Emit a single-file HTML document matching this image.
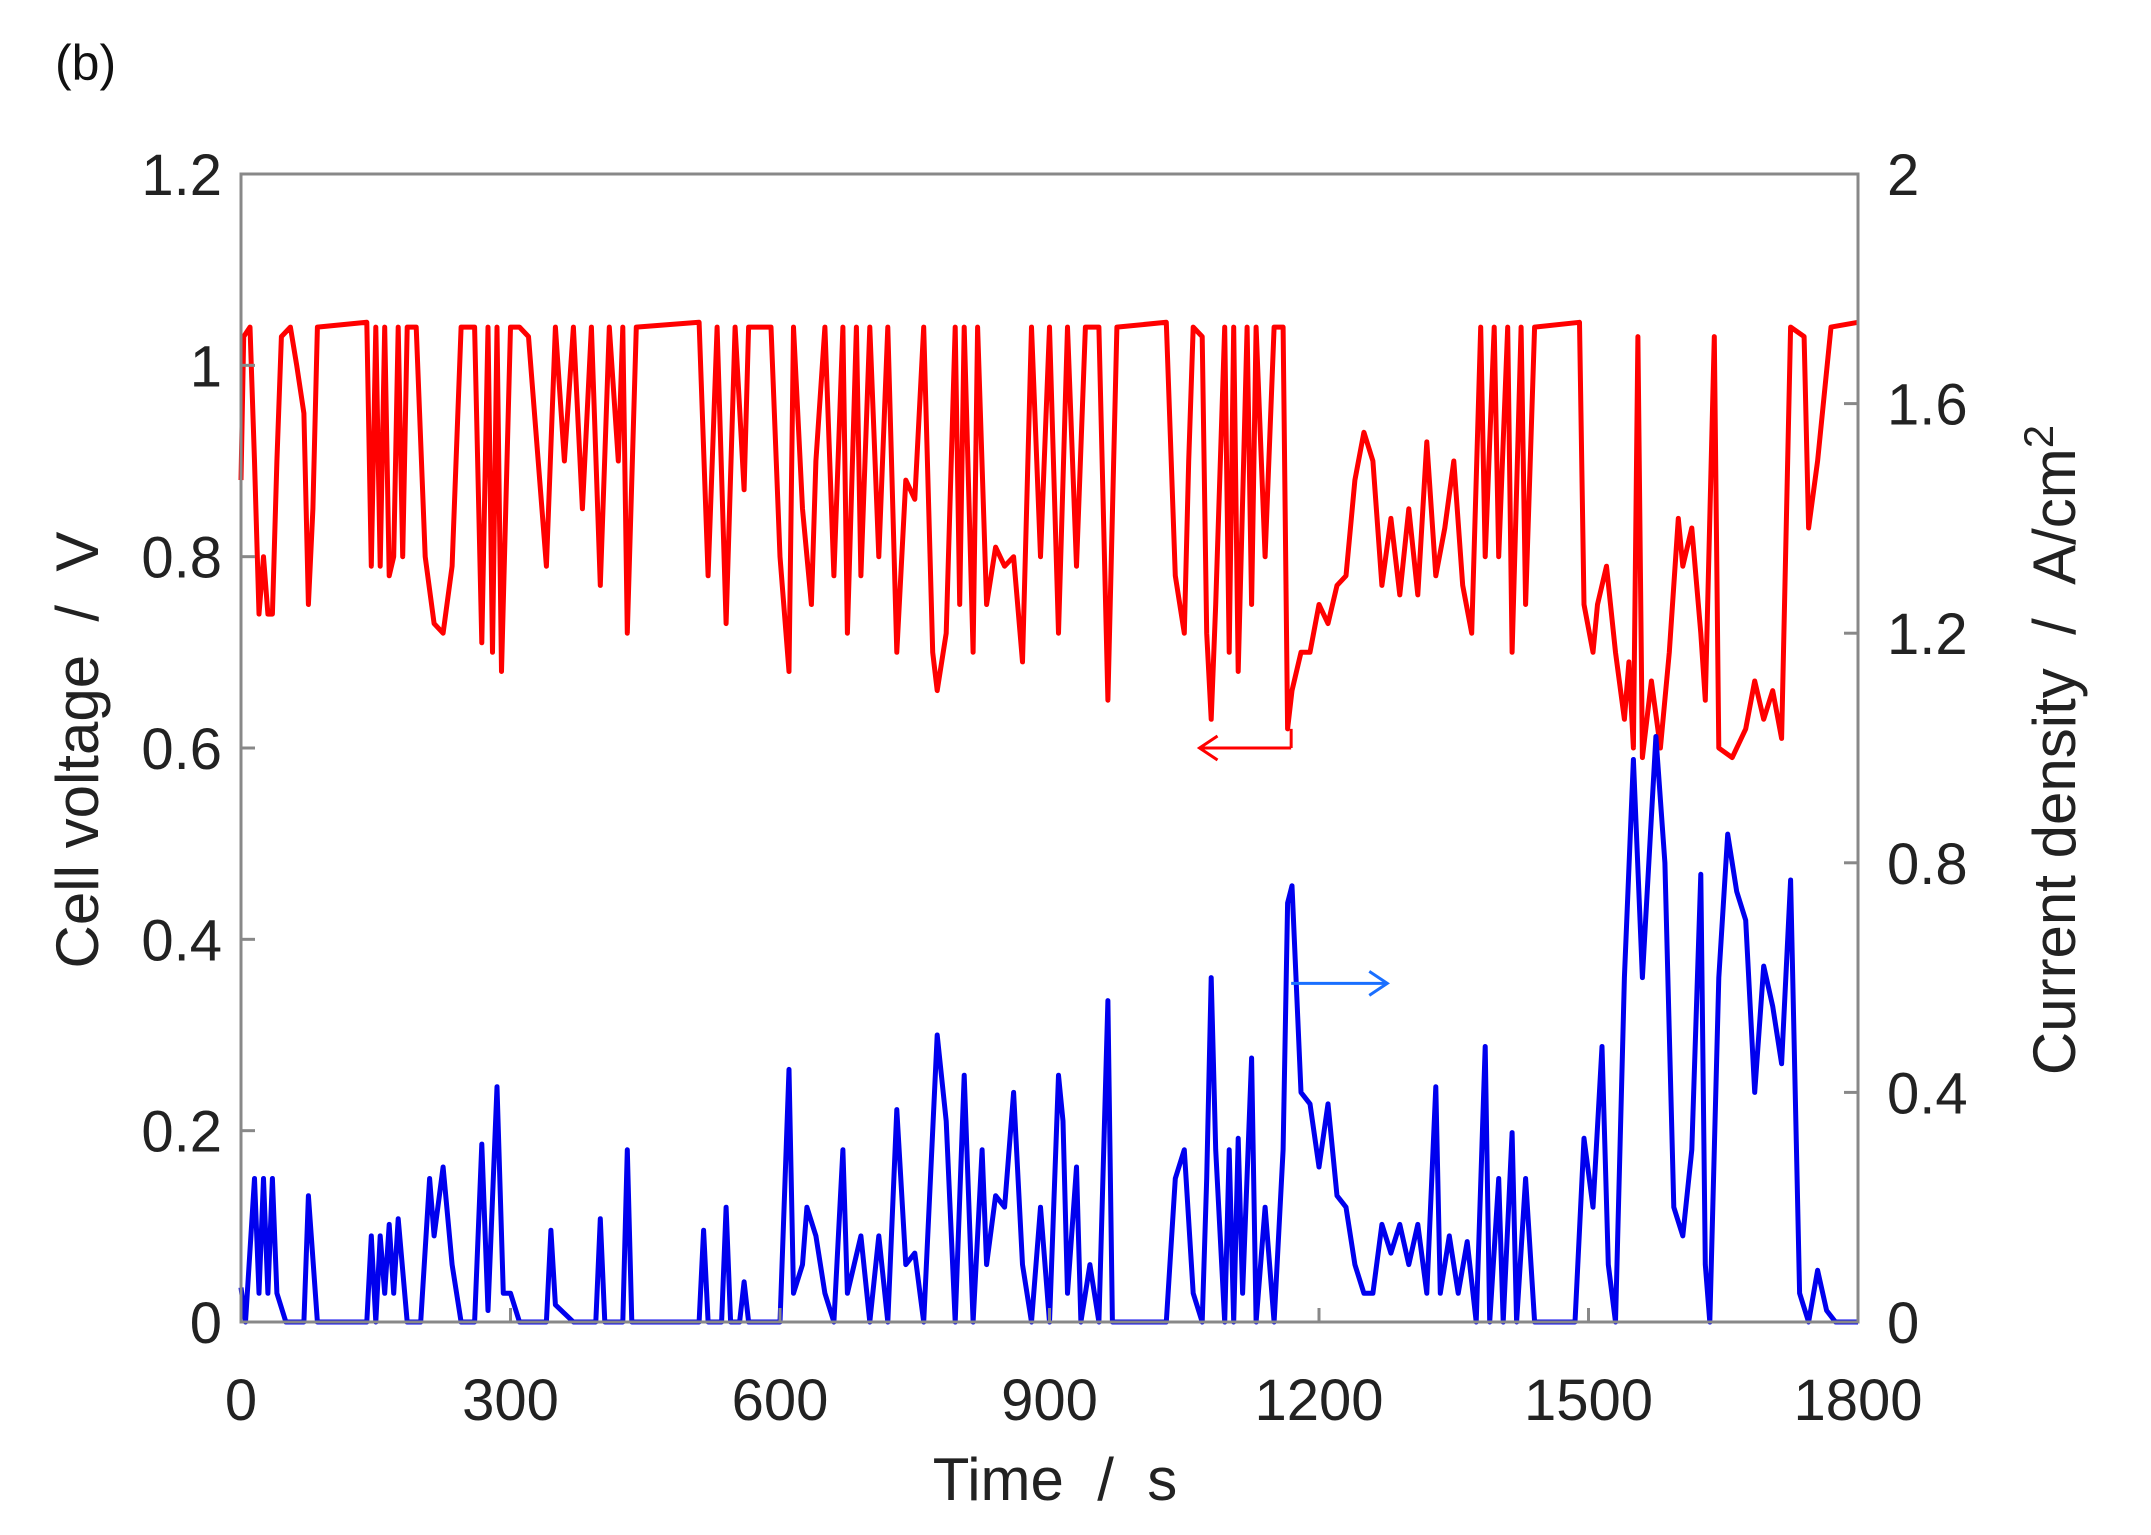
<!DOCTYPE html>
<html><head><meta charset="utf-8"><style>
html,body{margin:0;padding:0;background:#fff;}
svg{display:block;font-family:"Liberation Sans",Arial,sans-serif;}
</style></head><body>
<svg id="chart" width="2151" height="1535" viewBox="0 0 2151 1535">
<text x="55" y="80" font-size="50" fill="#111">(b)</text>
<g id="marks"></g>
<rect x="241" y="174" width="1617" height="1148" fill="none" stroke="#888" stroke-width="3"/>
<g id="axes"></g>
<text x="1055" y="1500" font-size="60" text-anchor="middle" fill="#222">Time&#160;&#160;/&#160;&#160;s</text>
<text transform="translate(98,750) rotate(-90)" font-size="60" text-anchor="middle" fill="#222">Cell voltage&#160;&#160;/&#160;&#160;V</text>
<text transform="translate(2075,750) rotate(-90)" font-size="60" text-anchor="middle" fill="#222">Current density&#160;&#160;/&#160;&#160;A/cm<tspan dy="-22" font-size="42">2</tspan></text>
</svg>
<script>
const xTicks=[0,300,600,900,1200,1500,1800];
const vTicks=[0,0.2,0.4,0.6,0.8,1,1.2];
const aTicks=[0,0.4,0.8,1.2,1.6,2];
const vTime=[0,3,10,15,20,25,30,35,40,45,55,62,70,75,80,85,140,145,150,155,160,165,170,175,180,185,195,205,215,225,235,245,260,268,275,280,285,290,300,310,320,340,350,360,370,380,390,400,410,420,425,430,440,510,520,530,540,550,560,565,590,600,610,615,625,635,640,650,660,670,675,685,690,700,710,720,730,740,750,760,770,775,785,795,800,805,815,820,830,840,850,860,870,880,890,900,910,920,930,940,955,965,975,1030,1040,1050,1055,1060,1070,1075,1080,1085,1095,1100,1105,1110,1120,1125,1130,1140,1150,1160,1165,1170,1180,1190,1200,1210,1220,1230,1240,1250,1260,1270,1280,1290,1300,1310,1320,1330,1340,1350,1360,1370,1380,1385,1395,1400,1410,1415,1425,1430,1440,1490,1495,1505,1510,1520,1530,1540,1545,1550,1555,1560,1570,1580,1590,1600,1605,1615,1625,1630,1640,1645,1660,1675,1685,1695,1705,1715,1725,1740,1745,1755,1770,1800];
const vValues=[0.88,1.03,1.04,0.9,0.74,0.8,0.74,0.74,0.9,1.03,1.04,1.0,0.95,0.75,0.85,1.04,1.045,0.79,1.04,0.79,1.04,0.78,0.8,1.04,0.8,1.04,1.04,0.8,0.73,0.72,0.79,1.04,1.04,0.71,1.04,0.7,1.04,0.68,1.04,1.04,1.03,0.79,1.04,0.9,1.04,0.85,1.04,0.77,1.04,0.9,1.04,0.72,1.04,1.045,0.78,1.04,0.73,1.04,0.87,1.04,1.04,0.8,0.68,1.04,0.85,0.75,0.9,1.04,0.78,1.04,0.72,1.04,0.78,1.04,0.8,1.04,0.7,0.88,0.86,1.04,0.7,0.66,0.72,1.04,0.75,1.04,0.7,1.04,0.75,0.81,0.79,0.8,0.69,1.04,0.8,1.04,0.72,1.04,0.79,1.04,1.04,0.65,1.04,1.045,0.78,0.72,0.9,1.04,1.03,0.72,0.63,0.75,1.04,0.7,1.04,0.68,1.04,0.75,1.04,0.8,1.04,1.04,0.62,0.66,0.7,0.7,0.75,0.73,0.77,0.78,0.88,0.93,0.9,0.77,0.84,0.76,0.85,0.76,0.92,0.78,0.83,0.9,0.77,0.72,1.04,0.8,1.04,0.8,1.04,0.7,1.04,0.75,1.04,1.045,0.75,0.7,0.75,0.79,0.7,0.63,0.69,0.6,1.03,0.59,0.67,0.6,0.7,0.84,0.79,0.83,0.72,0.65,1.03,0.6,0.59,0.62,0.67,0.63,0.66,0.61,1.04,1.03,0.83,0.9,1.04,1.045];
const aTime=[0,5,15,20,25,30,35,40,50,70,75,85,140,145,150,155,160,165,170,175,185,200,210,215,225,235,245,260,268,275,285,292,300,310,340,345,350,370,395,400,405,425,430,435,510,515,520,535,540,545,555,560,565,600,610,615,625,630,640,650,660,670,675,690,700,710,720,730,740,750,760,775,785,795,805,815,825,830,840,850,860,870,880,890,900,910,915,920,930,935,945,955,965,970,1030,1040,1050,1060,1070,1075,1080,1085,1095,1100,1105,1110,1115,1125,1130,1140,1150,1160,1165,1170,1180,1190,1200,1210,1220,1230,1240,1250,1260,1270,1280,1290,1300,1310,1320,1330,1335,1345,1355,1365,1375,1385,1390,1400,1405,1415,1420,1430,1440,1485,1495,1505,1515,1522,1530,1540,1550,1560,1575,1585,1595,1605,1615,1625,1630,1635,1645,1655,1665,1675,1685,1695,1705,1715,1725,1735,1745,1755,1765,1775,1800];
const aValues=[0.06,0,0.25,0.05,0.25,0.05,0.25,0.05,0,0,0.22,0,0,0.15,0,0.15,0.05,0.17,0.05,0.18,0,0,0.25,0.15,0.27,0.1,0,0,0.31,0.02,0.41,0.05,0.05,0,0,0.16,0.03,0,0,0.18,0,0,0.3,0,0,0.16,0,0,0.2,0,0,0.07,0,0,0.44,0.05,0.1,0.2,0.15,0.05,0,0.3,0.05,0.15,0,0.15,0,0.37,0.1,0.12,0,0.5,0.35,0,0.43,0,0.3,0.1,0.22,0.2,0.4,0.1,0,0.2,0,0.43,0.35,0.05,0.27,0,0.1,0,0.56,0,0,0.25,0.3,0.05,0,0.25,0.6,0.3,0,0.3,0,0.32,0.05,0.46,0,0.2,0,0.3,0.73,0.76,0.4,0.38,0.27,0.38,0.22,0.2,0.1,0.05,0.05,0.17,0.12,0.17,0.1,0.17,0.05,0.41,0.05,0.15,0.05,0.14,0,0.48,0,0.25,0,0.33,0,0.25,0,0,0.32,0.2,0.48,0.1,0,0.6,0.98,0.6,1.02,0.8,0.2,0.15,0.3,0.78,0.1,0,0.6,0.85,0.75,0.7,0.4,0.62,0.55,0.45,0.77,0.05,0,0.09,0.02,0,0];
const NS='http://www.w3.org/2000/svg';
const L=241,R=1858,T=174,B=1322;
const xs=t=>L+t/1800*(R-L);
const yv=v=>B-v/1.2*(B-T);
const ya=a=>B-a/2*(B-T);
const marks=document.getElementById('marks'),axes=document.getElementById('axes');
function mk(tag,attrs,parent){const e=document.createElementNS(NS,tag);for(const k in attrs)e.setAttribute(k,attrs[k]);parent.appendChild(e);return e;}
let pv=vTime.map((t,i)=>xs(t).toFixed(1)+','+yv(vValues[i]).toFixed(1)).join(' ');
const lv=mk('polyline',{points:pv,fill:'none',stroke:'#ff0000','stroke-width':5,'stroke-linejoin':'round'},marks);


let pa=aTime.map((t,i)=>xs(t).toFixed(1)+','+ya(aValues[i]).toFixed(1)).join(' ');
const la=mk('polyline',{points:pa,fill:'none',stroke:'#0000ee','stroke-width':5,'stroke-linejoin':'round'},marks);


const ar=mk('g',{stroke:'#ff0000','stroke-width':3,fill:'none'},marks);


mk('line',{x1:xs(1169),y1:yv(0.6),x2:xs(1067),y2:yv(0.6)},ar);
mk('polyline',{points:`${xs(1067)+18},${yv(0.6)-12} ${xs(1067)},${yv(0.6)} ${xs(1067)+18},${yv(0.6)+12}`},ar);
mk('line',{x1:xs(1169),y1:yv(0.6),x2:xs(1169),y2:yv(0.62)},ar);
const ab=mk('g',{stroke:'#1a6fff','stroke-width':3,fill:'none'},marks);


mk('line',{x1:xs(1169),y1:yv(0.354),x2:xs(1276),y2:yv(0.354)},ab);
mk('polyline',{points:`${xs(1276)-18},${yv(0.354)-12} ${xs(1276)},${yv(0.354)} ${xs(1276)-18},${yv(0.354)+12}`},ab);
xTicks.forEach(t=>{
 mk('line',{x1:xs(t),y1:B,x2:xs(t),y2:B-14,stroke:'#888','stroke-width':3},axes);
 const tx=mk('text',{x:xs(t),y:1420,'font-size':58,'text-anchor':'middle',fill:'#222'},axes);
 tx.textContent=t;
 
 
});
vTicks.forEach(v=>{
 mk('line',{x1:L,y1:yv(v),x2:L+14,y2:yv(v),stroke:'#888','stroke-width':3},axes);
 const tx=mk('text',{x:222,y:yv(v)+21,'font-size':58,'text-anchor':'end',fill:'#222'},axes);
 tx.textContent=v;
 
 
});
aTicks.forEach(a=>{
 mk('line',{x1:R,y1:ya(a),x2:R-14,y2:ya(a),stroke:'#888','stroke-width':3},axes);
 const tx=mk('text',{x:1887,y:ya(a)+21,'font-size':58,'text-anchor':'start',fill:'#222'},axes);
 tx.textContent=a;
 
 
});
</script>
</body></html>
